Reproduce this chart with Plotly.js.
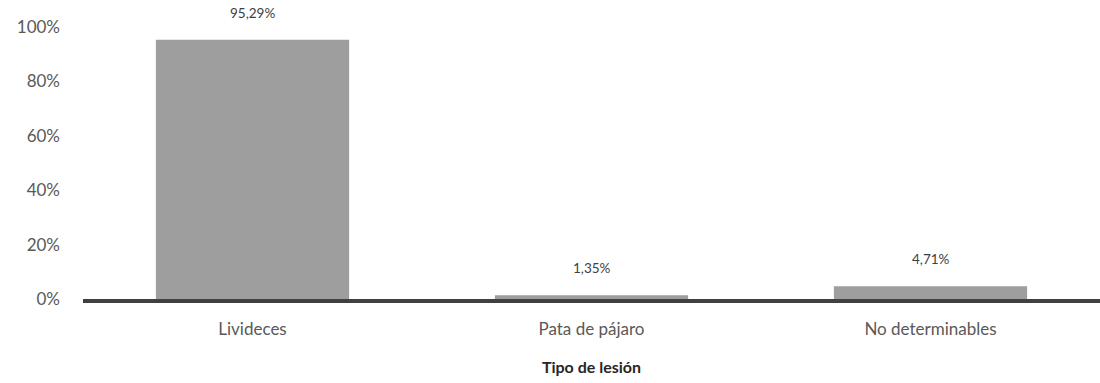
<!DOCTYPE html>
<html>
<head>
<meta charset="utf-8">
<script src="https://cdn.plot.ly/plotly-3.0.1.min.js"></script>
<style>html,body{margin:0;padding:0;background:#fff;}#chart{width:1100px;height:383px;}</style>
</head>
<body>
<div id="chart"></div>
<script>
const categories = ["Livideces", "Pata de pájaro", "No determinables"];
const values = [95.29, 1.35, 4.71];
const valueLabels = ["95,29%", "1,35%", "4,71%"];
const yTickVals = [0, 20, 40, 60, 80, 100];
const yTickText = ["0%", "20%", "40%", "60%", "80%", "100%"];

const font = "Lato, 'Open Sans', sans-serif";

const trace = {
  type: "bar",
  x: categories,
  y: values,
  marker: {color: "#9E9E9F"},
  hoverinfo: "none",
  cliponaxis: false
};

const annotations = categories.map((c, i) => ({
  x: c, y: values[i], xref: "x", yref: "y",
  text: valueLabels[i], showarrow: false,
  yanchor: "bottom", yshift: 17,
  font: {family: font, size: 13.5, color: "#404040"}
}));

const layout = {
  width: 1100, height: 383,
  margin: {l: 83, r: 0, t: 27, b: 84},
  paper_bgcolor: "#ffffff", plot_bgcolor: "#ffffff",
  bargap: 0.43,
  showlegend: false,
  xaxis: {
    type: "category",
    showgrid: false, zeroline: false,
    showline: true, linecolor: "#404040", linewidth: 4,
    ticks: "", ticklabelstandoff: 12,
    tickfont: {family: font, size: 17, color: "#595959"},
    title: {text: "<b>Tipo de lesión</b>", standoff: 24,
            font: {family: font, size: 16, color: "#262626"}}
  },
  yaxis: {
    range: [0, 100],
    tickvals: yTickVals, ticktext: yTickText,
    showgrid: false, zeroline: false, showline: false,
    ticks: "", ticklabelstandoff: 22,
    tickfont: {family: font, size: 17, color: "#595959"}
  },
  annotations: annotations
};

Plotly.newPlot("chart", [trace], layout, {displayModeBar: false, staticPlot: true});
</script>
</body>
</html>
